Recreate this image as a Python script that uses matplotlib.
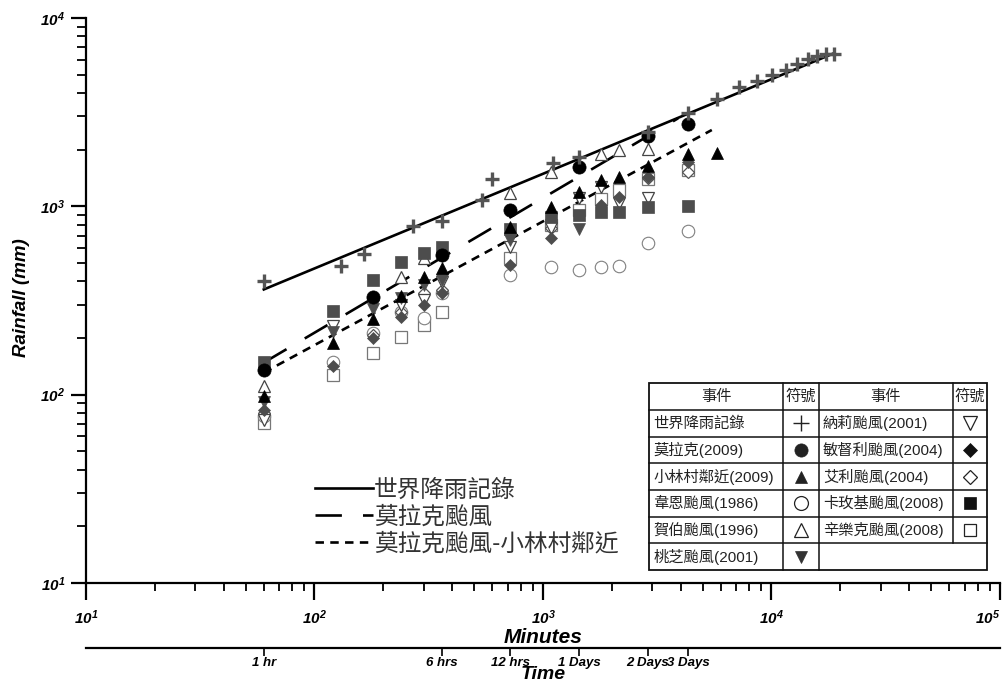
import matplotlib
matplotlib.use("Agg")
import matplotlib.pyplot as plt
from matplotlib.lines import Line2D
from matplotlib.patches import Rectangle
from matplotlib.ticker import LogLocator, NullFormatter, NullLocator

plt.rcParams['font.family'] = ['Liberation Sans', 'Noto Sans CJK TC', 'DejaVu Sans']
plt.rcParams['mathtext.fontset'] = 'custom'
plt.rcParams['mathtext.bf'] = 'Liberation Sans:italic:bold'
plt.rcParams['mathtext.rm'] = 'Liberation Sans:italic:bold'
plt.rcParams['mathtext.it'] = 'Liberation Sans:italic:bold'
plt.rcParams['mathtext.sf'] = 'Liberation Sans:italic:bold'
plt.rcParams['mathtext.default'] = 'bf'

# ---------------- data (minutes, mm) ----------------
world_x = [60, 130, 165, 270, 360, 540, 600, 1110, 1440, 2880, 4320, 5760, 7200,
           8640, 10080, 11520, 12960, 14400, 15840, 17280, 18720]
world_y = [401, 483, 559, 782, 840, 1087, 1400, 1689, 1825, 2467, 3130, 3721, 4301,
           4653, 5003, 5286, 5692, 6028, 6299, 6401, 6433]

morakot_x = [60, 180, 360, 720, 1440, 2880, 4320]
morakot_y = [135, 330, 551, 956, 1611, 2362, 2727]

xiaolin_x = [60, 120, 180, 240, 300, 360, 720, 1080, 1440, 1800, 2160, 2880, 4320, 5760]
xiaolin_y = [98, 188, 252, 334, 423, 469, 774, 995, 1195, 1380, 1436, 1643, 1889, 1912]

wayne_x = [60, 120, 180, 240, 300, 360, 720, 1080, 1440, 1800, 2160, 2880, 4320]
wayne_y = [77, 150, 212, 275, 255, 345, 432, 478, 459, 478, 482, 636, 742]

herb_x = [60, 240, 300, 360, 720, 1080, 1800, 2160, 2880]
herb_y = [111, 423, 531, 600, 1172, 1526, 1896, 1991, 2008]

toraji_x = [60, 120, 180, 240, 300, 360, 720, 1440]
toraji_y = [91, 215, 285, 326, 382, 406, 662, 755]

nari_x = [60, 120, 180, 240, 300, 360, 720, 1080, 1440, 1800, 2160, 2880]
nari_y = [73, 231, 299, 300, 318, 395, 610, 767, 1103, 1271, 1041, 1111]

mindulle_x = [60, 120, 180, 240, 300, 360, 720, 1080, 1800, 2160, 2880, 4320]
mindulle_y = [83, 142, 200, 259, 299, 345, 488, 676, 1016, 1125, 1436, 1725]

aere_x = [60, 180, 240, 300, 360, 1080, 2880, 4320]
aere_y = [80, 208, 275, 345, 359, 767, 1420, 1526]

kalmaegi_x = [60, 120, 180, 240, 300, 360, 720, 1080, 1440, 1800, 2160, 2880, 4320]
kalmaegi_y = [150, 279, 406, 508, 565, 610, 755, 881, 899, 936, 936, 988, 1007]

sinlaku_x = [60, 120, 180, 240, 300, 360, 720, 1080, 1440, 1800, 2160, 2880, 4320]
sinlaku_y = [71, 127, 167, 203, 234, 275, 529, 800, 956, 1089, 1221, 1391, 1558]

# trend lines (end points)
line_world_x = [60, 18720]
line_world_y = [362, 6490]
line_morakot_x = [60, 3900]
line_morakot_y = [148, 2933]
line_xiaolin_x = [60, 5480]
line_xiaolin_y = [131, 2543]

legend_labels = ['世界降雨記錄', '莫拉克颱風', '莫拉克颱風-小林村鄰近']

major_ticks = [10, 100, 1000, 10000, 100000]
major_labels = [r'$\mathbf{10^{1}}$', r'$\mathbf{10^{2}}$', r'$\mathbf{10^{3}}$',
                r'$\mathbf{10^{4}}$', r'$\mathbf{10^{5}}$']
y_ticks = [10, 100, 1000, 10000]
y_labels = [r'$\mathbf{10^{1}}$', r'$\mathbf{10^{2}}$', r'$\mathbf{10^{3}}$',
            r'$\mathbf{10^{4}}$']

time_ticks = [60, 360, 720, 1440, 2880, 4320]
time_labels = ['1 hr', '6 hrs', '12 hrs', '1 Days', '2 Days', '3 Days']

table_header = ['事件', '符號', '事件', '符號']
table_left = ['世界降雨記錄', '莫拉克(2009)', '小林村鄰近(2009)', '韋恩颱風(1986)',
              '賀伯颱風(1996)', '桃芝颱風(2001)']
table_right = ['納莉颱風(2001)', '敏督利颱風(2004)', '艾利颱風(2004)',
               '卡玫基颱風(2008)', '辛樂克颱風(2008)']

# ---------------- figure ----------------
W, H = 1003, 684
fig = plt.figure(figsize=(W / 100, H / 100), dpi=100)
fig.patch.set_facecolor('white')

def fx(px):
    return px / W

def fy(py):
    return 1 - py / H

ax = fig.add_axes([fx(86), fy(583), (1000 - 86) / W, (583 - 18) / H])
ax.set_xscale('log')
ax.set_yscale('log')
ax.set_xlim(10, 1e5)
ax.set_ylim(10, 1e4)
ax.patch.set_alpha(0)
for s in ['top', 'right']:
    ax.spines[s].set_visible(False)
for s in ['left', 'bottom']:
    ax.spines[s].set_linewidth(1.6)
    ax.spines[s].set_color('black')

ax.set_xticks(major_ticks, labels=major_labels)
ax.set_yticks(y_ticks, labels=y_labels)
ax.xaxis.set_minor_locator(LogLocator(base=10, subs=range(2, 10), numticks=20))
ax.yaxis.set_minor_locator(LogLocator(base=10, subs=range(2, 10), numticks=20))
ax.xaxis.set_minor_formatter(NullFormatter())
ax.yaxis.set_minor_formatter(NullFormatter())
ax.tick_params(axis='x', which='major', direction='out', length=12, width=1.6, pad=6.5, labelsize=11)
ax.tick_params(axis='x', which='minor', direction='out', length=6, width=1.3)
ax.tick_params(axis='y', which='major', direction='out', length=11, width=1.6, pad=4, labelsize=11)
ax.tick_params(axis='y', which='minor', direction='out', length=6.5, width=1.3)
ax.xaxis.get_major_ticks()[-1].label1.set_horizontalalignment('right')

ax.set_xlabel('Minutes', fontsize=15, fontweight='bold', fontstyle='italic', labelpad=0.5)
ax.set_ylabel('Rainfall (mm)', fontsize=13.5, fontweight='bold', fontstyle='italic',
              va='center')
ax.yaxis.set_label_coords((22 - 86) / 914, (583 - 298) / 565)

# trend lines
l1, = ax.plot(line_world_x, line_world_y, color='black', lw=1.9, zorder=3,
              label=legend_labels[0])
l2, = ax.plot(line_morakot_x, line_morakot_y, color='black', lw=1.9, zorder=3,
              dashes=(10, 8), label=legend_labels[1])
l3, = ax.plot(line_xiaolin_x, line_xiaolin_y, color='black', lw=1.9, zorder=3,
              dashes=(3.2, 2.4), label=legend_labels[2])

gray = '#4d4d4d'
kw = dict(linestyle='none', zorder=4, clip_on=False)
ax.plot(sinlaku_x, sinlaku_y, marker='s', ms=8, mfc='white', mec='#777777', mew=0.9, **kw)
ax.plot(wayne_x, wayne_y, marker='o', ms=9, mfc='white', mec='#808080', mew=0.8, **kw)
ax.plot(aere_x, aere_y, marker='D', ms=6.3, mfc='white', mec='#555555', mew=0.9, **kw)
ax.plot(nari_x, nari_y, marker='v', ms=8.5, mfc='white', mec='#444444', mew=0.9, **kw)
ax.plot(herb_x, herb_y, marker='^', ms=8.5, mfc='white', mec='#444444', mew=0.9, **kw)
ax.plot(mindulle_x, mindulle_y, marker='D', ms=6.3, mfc=gray, mec=gray, mew=0.5, **kw)
ax.plot(toraji_x, toraji_y, marker='v', ms=8.5, mfc=gray, mec=gray, mew=0.5, **kw)
ax.plot(kalmaegi_x, kalmaegi_y, marker='s', ms=8, mfc=gray, mec=gray, mew=0.5, **kw)
ax.plot(xiaolin_x, xiaolin_y, marker='^', ms=8.5, mfc='black', mec='black', mew=0.5, **kw)
ax.plot(morakot_x, morakot_y, marker='o', ms=9.5, mfc='black', mec='black', mew=0.5, **kw)
ax.plot(world_x, world_y, marker='+', ms=10, mec='#555555', mew=2.4, **kw)

# line legend
leg = ax.legend(handles=[l1, l2, l3], loc='center left',
                bbox_to_anchor=(fx(315), fy(517)), bbox_transform=fig.transFigure,
                frameon=False, borderpad=0, borderaxespad=0, handlelength=2.45,
                handletextpad=0.05, labelspacing=0.17,
                prop={'family': ['Noto Sans CJK TC', 'DejaVu Sans'], 'size': 17})
for t in leg.get_texts():
    t.set_color('#333333')

# time axis
ax2 = fig.add_axes([fx(86), fy(648), (1000 - 86) / W, 0.001])
ax2.set_xscale('log')
ax2.set_xlim(10, 1e5)
ax2.patch.set_alpha(0)
ax2.set_yticks([])
for s in ['top', 'right', 'left']:
    ax2.spines[s].set_visible(False)
ax2.spines['bottom'].set_linewidth(1.6)
ax2.set_xticks(time_ticks, labels=time_labels, fontweight='bold', fontstyle='italic',
               fontsize=9.5)
ax2.xaxis.set_minor_locator(NullLocator())
ax2.tick_params(axis='x', which='major', direction='out', length=6, width=1.2, pad=0.5)
ax2.set_xlabel('Time', fontsize=14, fontweight='bold', fontstyle='italic', labelpad=-2)

# ---------------- table legend ----------------
xe = [649.3, 783.3, 819, 952.7, 986.7]
ye = [383.3, 410, 436.7, 463.3, 490, 516.7, 543.3, 570]
fig.add_artist(Rectangle((fx(xe[0]), fy(ye[-1])), fx(xe[-1]) - fx(xe[0]),
                         fy(ye[0]) - fy(ye[-1]), transform=fig.transFigure,
                         facecolor='white', edgecolor='#111111', lw=1.3, zorder=5))
lkw = dict(transform=fig.transFigure, color='#111111', lw=1.1, zorder=6)
for yy in ye[1:-1]:
    fig.add_artist(Line2D([fx(xe[0]), fx(xe[-1])], [fy(yy), fy(yy)], **lkw))
for xx in xe[1:3]:
    fig.add_artist(Line2D([fx(xx), fx(xx)], [fy(ye[0]), fy(ye[-1])], **lkw))
fig.add_artist(Line2D([fx(xe[3]), fx(xe[3])], [fy(ye[0]), fy(ye[-2])], **lkw))

tfont = dict(family=['Liberation Sans', 'Noto Sans CJK TC'], fontsize=11, color='#222222',
             zorder=7)
col_centers = [(xe[i] + xe[i + 1]) / 2 for i in range(4)]
hy = (ye[0] + ye[1]) / 2
for c, txt in zip(col_centers, table_header):
    fig.text(fx(c), fy(hy), txt, ha='center', va='center', **tfont)
for i, txt in enumerate(table_left):
    cy = (ye[i + 1] + ye[i + 2]) / 2
    fig.text(fx(xe[0] + 4), fy(cy), txt, ha='left', va='center', **tfont)
for i, txt in enumerate(table_right):
    cy = (ye[i + 1] + ye[i + 2]) / 2
    fig.text(fx(xe[2] + 4), fy(cy), txt, ha='left', va='center', **tfont)

left_syms = [('+', 'none', '#222222', 11, 1.0), ('o', '#222222', '#222222', 9.5, 0.5),
             ('^', '#222222', '#222222', 9, 0.5), ('o', 'white', '#222222', 10, 0.9),
             ('^', 'white', '#222222', 9.5, 0.9), ('v', '#333333', '#333333', 9, 0.5)]
right_syms = [('v', 'white', '#222222', 9.5, 0.9), ('D', '#111111', '#111111', 7, 0.5),
              ('D', 'white', '#222222', 7, 0.9), ('s', '#111111', '#111111', 8.5, 0.5),
              ('s', 'white', '#222222', 9, 0.9)]
for i, (m, fc, ec, ms, mw) in enumerate(left_syms):
    cy = (ye[i + 1] + ye[i + 2]) / 2
    fig.add_artist(Line2D([fx(col_centers[1])], [fy(cy)], marker=m, ms=ms, mfc=fc, mec=ec,
                          mew=mw, linestyle='none', transform=fig.transFigure, zorder=7))
for i, (m, fc, ec, ms, mw) in enumerate(right_syms):
    cy = (ye[i + 1] + ye[i + 2]) / 2
    fig.add_artist(Line2D([fx(col_centers[3])], [fy(cy)], marker=m, ms=ms, mfc=fc, mec=ec,
                          mew=mw, linestyle='none', transform=fig.transFigure, zorder=7))

fig.savefig('out.png', dpi=100, facecolor='white')
